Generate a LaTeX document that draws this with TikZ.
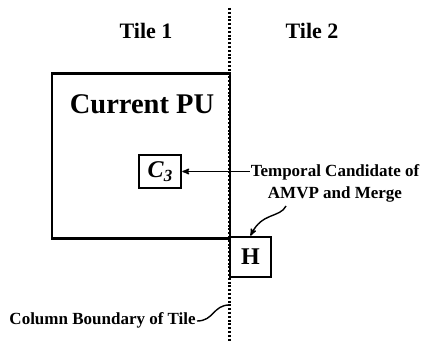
\documentclass[tikz,border=0pt]{standalone}
\usepackage{amsmath}
\usepackage{fontspec}
\setmainfont{Liberation Serif}
\usepackage{tikz}
\usetikzlibrary{arrows,positioning}

\begin{document}
\begin{tikzpicture}[x=1pt,y=-1pt,>=stealth',line width=2.5pt,
		blk/.style={draw,rectangle,inner sep=0pt},
		note/.style={font=\fontsize{17}{22}\selectfont\bfseries,align=center,inner sep=0pt}]
		\useasboundingbox (0,0) rectangle (421,342);
		\coordinate (btop) at (229.5,8);
		\coordinate (bbot) at (229.5,342);
		\coordinate (bmid) at (229.5,305);
		\draw[line width=2.2pt, dash pattern = on 2pt off 1.8pt] (btop) -- (bbot);

		\node	(tilea)	at (146,31)	{\fontsize{22}{26}\selectfont\bfseries Tile 1};
		\node	(tileb)	at (312,31)	{\fontsize{22}{26}\selectfont\bfseries Tile 2};

		\node[blk, minimum width=178pt, minimum height=165pt]	(pu)	at (141,156)	{};
		\node	(putxt)	at (142,104)	{\fontsize{28.5}{32}\selectfont\bfseries Current PU};
		\node[blk, minimum width=42pt, minimum height=33pt, font=\fontsize{24}{26}\selectfont\bfseries\itshape]	(cand)	at (160,171.5)	{C\raisebox{-4pt}{\fontsize{17}{17}\selectfont 3}};
		\node[blk, minimum width=41pt, minimum height=40pt]	(hblk)	at (250.5,257)	{\fontsize{24}{28}\selectfont\bfseries H};

		\node[note]	(tmvp)	at (335,183)	{Temporal Candidate of\\AMVP and Merge};
		\node[note, anchor=base east]	(colb)	at (197,325)	{Column Boundary of Tile};

		\path[->, line width=1.4pt]
		(tmvp.west |- cand.east)	edge	[]	node	{}	(cand.east)
		;
		\draw[->, line width=1.4pt] (286,206) .. controls (280,218) and (262,212) .. (hblk.north);
		\draw[line width=1.4pt] (colb.east |- 0,321) .. controls (214,321) and (213,305) .. (bmid);
	\end{tikzpicture}
\end{document}
